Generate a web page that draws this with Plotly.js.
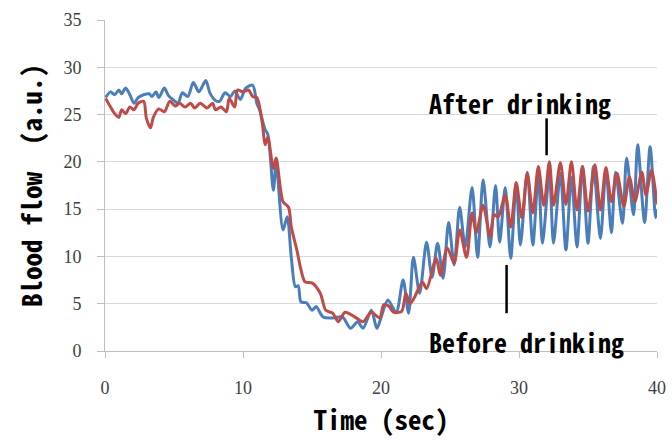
<!DOCTYPE html>
<html>
<head>
<meta charset="utf-8">
<script src="https://cdn.plot.ly/plotly-3.0.1.min.js"></script>
<style>html,body{margin:0;padding:0;background:#fff;}#chart{width:672px;height:447px;}</style>
</head>
<body>
<div id="chart"></div>
<script>
// Before drinking (blue)
var beforeTime = [0.05,0.4,0.7,1.0,1.2,1.5,1.8,2.1,2.4,2.8,3.2,3.4,3.7,3.9,4.3,4.6,5.0,5.3,5.6,6.0,6.4,6.8,7.3,7.6,8.0,8.3,8.7,9.1,9.4,9.8,10.2,10.7,11.0,11.2,11.6,11.8,12.2,12.4,12.9,13.2,13.5,13.8,14.0,14.2,14.6,15.0,15.3,15.8,16.5,17.2,17.8,18.3,18.7,19.3,19.7,20.0,20.5,21.1,21.6,22.0,22.35,22.8,23.3,23.7,24.1,24.5,24.9,25.3,25.7,26.1,26.6,27.0,27.4,27.9,28.3,28.6,29.0,29.4,29.8,30.1,30.6,31.0,31.4,31.7,32.2,32.5,33.0,33.4,33.8,34.2,34.6,35.0,35.4,35.9,36.3,36.7,37.0,37.5,37.8,38.3,38.6,39.1,39.5,39.9,40.0];
var beforeFlow = [26.8,27.4,27.1,27.6,27.2,27.8,27.1,26.2,26.8,27.1,27.2,26.9,27.4,26.8,27.8,27.0,26.5,26.2,27.3,26.9,28.4,27.4,28.6,27.3,26.5,26.4,27.3,26.9,27.5,26.6,27.8,28.1,26.2,25.5,23.4,22.9,17.0,19.9,12.8,14.2,9.9,6.8,6.9,5.2,5.1,4.3,4.7,3.6,3.5,3.6,2.4,3.1,2.4,4.3,2.4,3.5,5.4,4.1,7.5,4.0,9.9,6.1,11.5,7.8,11.4,7.7,13.6,9.1,15.2,11.0,17.3,9.9,18.1,11.0,17.5,11.5,17.3,9.8,17.8,11.2,18.9,11.2,18.6,11.4,18.7,11.4,18.8,10.7,18.4,11.0,19.5,11.4,19.5,11.9,19.1,12.5,18.9,13.5,20.4,14.4,21.8,13.6,21.6,14.1,15.0];
// After drinking (red)
var afterTime = [0.05,0.4,0.7,1.0,1.2,1.5,1.8,2.1,2.4,2.8,3.0,3.3,3.5,3.9,4.3,4.7,5.1,5.4,5.8,6.2,6.5,6.9,7.4,7.8,8.0,8.4,8.8,9.0,9.4,9.6,10.0,10.4,10.7,11.0,11.4,11.6,11.8,12.2,12.4,12.9,13.3,13.5,13.9,14.2,14.5,15.0,15.6,16.0,16.5,16.9,17.4,18.2,18.7,19.3,19.9,20.2,20.6,20.9,21.5,21.8,22.1,22.4,23.0,23.3,24.0,24.3,24.8,25.3,25.7,26.2,26.6,26.9,27.4,27.9,28.2,28.5,29.0,29.4,29.8,30.2,30.6,31.0,31.4,31.8,32.2,32.5,33.0,33.4,33.8,34.2,34.6,35.0,35.5,35.9,36.3,36.7,37.1,37.6,38.0,38.4,38.9,39.2,39.6,40.0];
var afterFlow = [26.7,25.8,25.1,24.7,25.5,25.1,25.8,25.5,26.2,26.4,24.6,23.6,24.7,25.6,25.3,26.4,25.9,26.2,25.8,26.2,25.7,26.2,25.7,26.2,25.5,25.8,25.3,26.7,25.8,27.6,27.4,27.6,26.9,26.8,24.1,21.8,22.6,19.3,20.4,15.8,15.2,13.1,10.7,8.6,7.3,7.2,6.1,4.3,4.0,3.1,4.1,3.5,3.1,4.1,3.5,4.9,4.7,4.1,4.2,6.1,5.0,5.6,7.3,6.6,9.8,8.0,10.9,9.3,12.8,9.9,14.6,12.5,15.4,12.1,14.4,14.2,16.5,13.1,17.8,14.1,18.8,14.6,19.5,15.4,20.0,15.4,19.9,15.5,20.0,14.9,19.5,14.8,19.7,14.9,19.4,15.8,18.8,15.3,18.4,15.8,18.9,16.5,19.1,15.5];

var xTicks = [0,10,20,30,40];
var yTicks = [0,5,10,15,20,25,30,35];
var labelAfter = 'After drinking';
var labelBefore = 'Before drinking';

var gothic = '"Noto Sans Mono CJK JP", "DejaVu Sans Mono", monospace';
var titleFont = {family: gothic, size: 27, color: '#000', weight: 'bold'};
var noteFont = {family: gothic, size: 26, color: '#000', weight: 'bold'};
var tickFont = {family: '"Liberation Serif", "Times New Roman", serif', size: 18, color: '#404040'};

var traces = [
  {x: beforeTime, y: beforeFlow, type: 'scatter', mode: 'lines', name: labelBefore,
   line: {color: '#4A7EBB', width: 3, shape: 'spline', smoothing: 0.8}},
  {x: afterTime, y: afterFlow, type: 'scatter', mode: 'lines', name: labelAfter,
   line: {color: '#BE4B48', width: 3, shape: 'spline', smoothing: 0.8}}
];

var layout = {
  width: 672, height: 447,
  margin: {l: 105, r: 15, t: 20, b: 96},
  paper_bgcolor: '#fff', plot_bgcolor: '#fff',
  showlegend: false,
  xaxis: {range: [0, 40], tickvals: xTicks, ticks: 'outside', ticklen: 6, tickcolor: '#bfbfbf',
          showgrid: false, zeroline: false, showline: true, linecolor: '#bfbfbf', linewidth: 1,
          tickfont: tickFont, ticklabelstandoff: 14,
          title: {text: 'Time (sec)', font: titleFont, standoff: 14}},
  yaxis: {range: [0, 35], tickvals: yTicks, ticks: 'outside', ticklen: 7, tickcolor: '#bfbfbf',
          showgrid: true, gridcolor: '#d9d9d9', gridwidth: 1, zeroline: false,
          showline: true, linecolor: '#bfbfbf', linewidth: 1,
          tickfont: tickFont, ticklabelstandoff: 12,
          title: {text: 'Blood flow\u00a0\u00a0(a.u.)', font: titleFont, standoff: 12}},
  annotations: [
    {x: 30.05, y: 26.3, xref: 'x', yref: 'y', text: labelAfter, showarrow: false, font: noteFont},
    {x: 30.55, y: 1.0, xref: 'x', yref: 'y', text: labelBefore, showarrow: false, font: noteFont}
  ],
  shapes: [
    {type: 'line', xref: 'x', yref: 'y', x0: 32, x1: 32, y0: 20.7, y1: 24.6, line: {color: '#000', width: 2.5}},
    {type: 'line', xref: 'x', yref: 'y', x0: 29.1, x1: 29.1, y0: 4.0, y1: 9.1, line: {color: '#000', width: 2.5}}
  ]
};

Plotly.newPlot('chart', traces, layout, {displayModeBar: false, staticPlot: true});
</script>
</body>
</html>
